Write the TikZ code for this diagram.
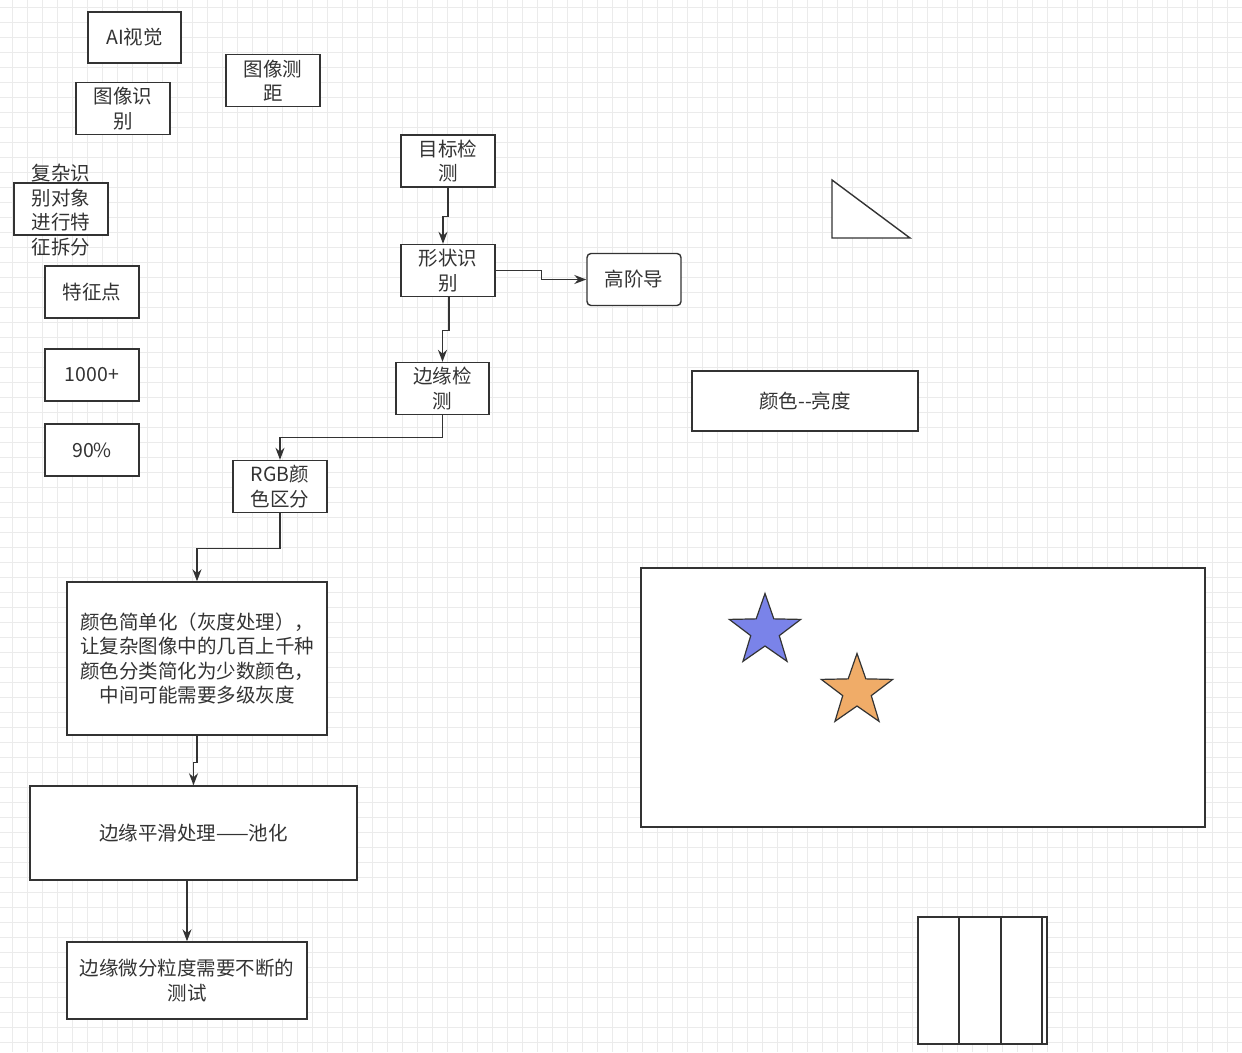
\documentclass[tikz,border=0pt]{standalone}
\usepackage{fontspec}
\setmainfont{Noto Sans CJK SC}
\usepackage{tikz}
\usetikzlibrary{arrows.meta}
\usetikzlibrary{shapes.geometric}

\definecolor{inkgray}{HTML}{333333}
\definecolor{gridgray}{HTML}{EBEBEB}
\definecolor{starblue}{HTML}{7A83E9}
\definecolor{starorange}{HTML}{F0AC68}

\begin{document}
\begin{tikzpicture}[x=1pt,y=-1pt,>={Stealth[length=12pt,width=9pt]},
    box/.style={draw=inkgray, line width=1.4pt, fill=white, align=center,
      inner sep=0pt, text=inkgray, font=\fontsize{19.5}{24.5}\selectfont,
      minimum width=94pt, minimum height=52pt},
    flow/.style={->, draw=inkgray, line width=1.4pt},
    shapeline/.style={draw=inkgray, line width=1.4pt, fill=white},
    gridline/.style={gridgray, line width=0.8pt}]

  % canvas and grid
  \fill[white] (0,0) rectangle (1242,1052);
  \useasboundingbox (0,0) rectangle (1242,1052);
  \foreach \gx in {12,27,...,1242}
    \draw[gridline] (\gx,0) -- (\gx,1052);
  \foreach \gy in {7,22,...,1052}
    \draw[gridline] (0,\gy) -- (1242,\gy);

  % loose notes on the left
  \node[box, minimum width=93pt, minimum height=51pt] (aivision) at (134.5,37.5) {AI视觉};
  \node[box] (ceju)   at (273,80.5)   {图像测\\距};
  \node[box] (shibie) at (123,108.5)  {图像识\\别};
  \node[box, label={[align=center, text=inkgray, font=\fontsize{19.5}{24.5}\selectfont, yshift=-1pt]center:复杂识\\别对象\\进行特\\征拆分}]
        (chaifen) at (61,209) {};
  \node[box] (tezheng) at (92,292)  {特征点};
  \node[box] (qian)    at (92,375)  {1000+};
  \node[box] (baifen)  at (92,450)  {90\%};

  % main flow
  \node[box] (mubiao)     at (448,161)   {目标检\\测};
  \node[box] (xingzhuang) at (448,270.5) {形状识\\别};
  \node[box, rounded corners=4pt] (gaojie) at (634,279.5) {高阶导};
  \node[box, minimum width=93pt] (bianyuan) at (442.5,388.5) {边缘检\\测};
  \node[box] (rgb)        at (280,486.5) {RGB颜\\色区分};
  \node[box, minimum width=260pt, minimum height=153pt] (huidu) at (197,658.5)
        {颜色简单化（灰度处理），\\让复杂图像中的几百上千种\\颜色分类简化为少数颜色，\\中间可能需要多级灰度};
  \node[box, minimum width=327pt, minimum height=94pt] (chihua) at (193.5,833) {边缘平滑处理——池化};
  \node[box, minimum width=240pt, minimum height=77pt] (ceshi) at (187,980.5)
        {边缘微分粒度需要不断的\\测试};

  \node[box, minimum width=226pt, minimum height=60pt] (liangdu) at (805,401) {颜色-{}-亮度};

  \draw[flow] (mubiao.south) -- ++(0,29) -| ([xshift=-5pt]xingzhuang.north);
  \draw[flow] ([xshift=1pt]xingzhuang.south) -- ++(0,33) -| (bianyuan.north);
  \draw[flow] (xingzhuang.east) -- ++(46,0) |- (gaojie.west);
  \draw[flow] (bianyuan.south) -- ++(0,22) -| (rgb.north);
  \draw[flow] (rgb.south) -- ++(0,35) -| (huidu.north);
  \draw[flow] (huidu.south) -- ++(0,27) -| (chihua.north);
  \draw[flow] (chihua.south -| ceshi.north) -- (ceshi.north);

  % shapes on the right
  \draw[shapeline] (832,180) -- (832,238) -- (910,238) -- cycle;
  \draw[shapeline] (641,568) rectangle (1205,827);
  \node[star, star points=5, star point ratio=2.5, draw=inkgray, line width=1.2pt,
        fill=starblue, inner sep=0pt, minimum size=75pt] (bluestar) at (765,631) {};
  \node[star, star points=5, star point ratio=2.5, draw=inkgray, line width=1.2pt,
        fill=starorange, inner sep=0pt, minimum size=75pt] (orangestar) at (857,691) {};

  \draw[shapeline] (918,917) rectangle (1047,1044);
  \draw[inkgray, line width=1.4pt] (959,917) -- (959,1044);
  \draw[inkgray, line width=1.4pt] (1001,917) -- (1001,1044);
  \draw[inkgray, line width=1.4pt] (1042,917) -- (1042,1044);
\end{tikzpicture}
\end{document}
